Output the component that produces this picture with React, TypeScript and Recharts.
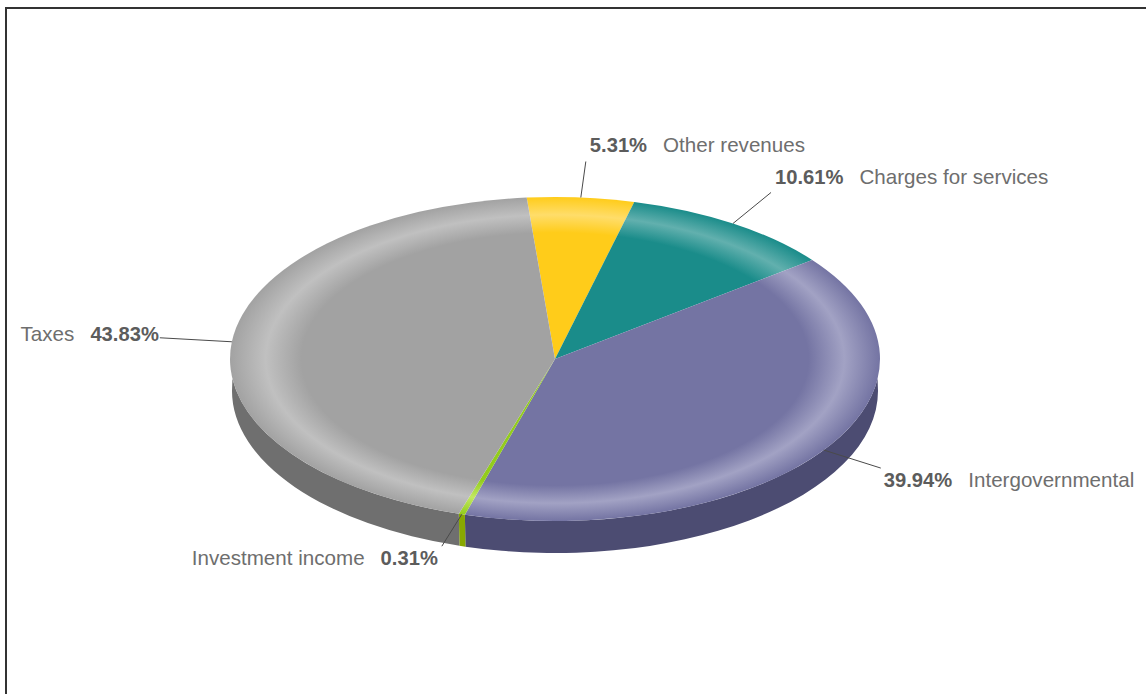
import React from "react";
import { PieChart, Pie } from "recharts";

const categories = ["Other revenues", "Charges for services", "Intergovernmental", "Investment income", "Taxes"];
const shares = [5.31, 10.61, 39.94, 0.31, 43.83];

const data = categories.map((name, i) => ({ name, value: shares[i] }));

// base face, rim highlight, wall
const faceColors = ["#ffcc1a", "#1a8c8a", "#7474a3", "#93cc1c", "#a2a2a2"];
const glowColors = ["#ffdd6a", "#62b0ae", "#a2a2c4", "#c2e862", "#c0c0c0"];
const wallColors = ["#b08c10", "#0e5f5e", "#4c4c72", "#88a800", "#6f6f6f"];

// the disc is tilted: vertical radii shrink by this factor
const TILT = 0.4985;
const DEPTH = 32;
// the far ends of the wall hide behind the disc down to this angle
const WALL_HIDDEN = 7;

// leader end relative to the rim, then text relative to the leader end
const leaders = [
  { dx: 5, dy: -36, tx: 4, ty: -9, side: "right" },
  { dx: 38, dy: -31, tx: 4, ty: -8, side: "right" },
  { dx: 57, dy: 18, tx: 3, ty: 19, side: "right" },
  { dx: -20, dy: 32, tx: -4, ty: 19, side: "left" },
  { dx: -72, dy: -4, tx: -1, ty: 3, side: "left" },
];

const rad = (deg: number) => (deg * Math.PI) / 180;

function rimPoint(cx: number, cy: number, r: number, deg: number) {
  return { x: cx + r * Math.cos(rad(deg)), y: cy - r * TILT * Math.sin(rad(deg)) };
}

function TopFace(props: any) {
  const { cx, cy, outerRadius: r, startAngle, endAngle, index } = props;
  const a = rimPoint(cx, cy, r, startAngle);
  const b = rimPoint(cx, cy, r, endAngle);
  const large = Math.abs(startAngle - endAngle) > 180 ? 1 : 0;
  const id = `face-${index}`;
  const d = `M${cx},${cy} L${a.x},${a.y} A${r},${r * TILT} 0 ${large} 1 ${b.x},${b.y} Z`;
  return (
    <g>
      <defs>
        <radialGradient
          id={id}
          gradientUnits="userSpaceOnUse"
          cx={cx}
          cy={cy}
          r={r}
          gradientTransform={`translate(${cx} ${cy}) scale(1 ${TILT}) translate(${-cx} ${-cy})`}
        >
          <stop offset="0.78" stopColor={faceColors[index]} />
          <stop offset="0.89" stopColor={glowColors[index]} />
          <stop offset="1" stopColor={faceColors[index]} />
        </radialGradient>
      </defs>
      <path d={d} fill={`url(#${id})`} />
    </g>
  );
}

// only the part of a slice facing the viewer shows a wall; its lower edge
// is a slightly narrower ellipse than the disc
function Wall(props: any) {
  const { cx, cy, outerRadius: r, startAngle, endAngle, index } = props;
  const from = Math.min(startAngle, -WALL_HIDDEN);
  const to = Math.max(endAngle, -180 + WALL_HIDDEN);
  if (from <= to) return null;
  const a = rimPoint(cx, cy, r, from);
  const b = rimPoint(cx, cy, r, to);
  const ry = r * TILT;
  const lowerFrom = from === -WALL_HIDDEN ? 0 : from;
  const lowerTo = to === -180 + WALL_HIDDEN ? -180 : to;
  const rl = r - 2;
  const c = { x: cx + rl * Math.cos(rad(lowerFrom)), y: cy - ry * Math.sin(rad(lowerFrom)) + DEPTH };
  const e = { x: cx + rl * Math.cos(rad(lowerTo)), y: cy - ry * Math.sin(rad(lowerTo)) + DEPTH };
  const d =
    `M${a.x},${a.y} A${r},${ry} 0 0 1 ${b.x},${b.y} ` +
    `L${e.x},${e.y} A${rl},${ry} 0 0 0 ${c.x},${c.y} Z`;
  return <path d={d} fill={wallColors[index]} />;
}

function SliceLabel(props: any) {
  const { cx, cy, outerRadius: r, midAngle, index, name, value } = props;
  const p = rimPoint(cx, cy, r, midAngle);
  const l = leaders[index];
  const ex = p.x + l.dx;
  const ey = p.y + l.dy;
  const pct = `${value.toFixed(2)}%`;
  const right = l.side === "right";
  return (
    <g>
      <line x1={p.x} y1={p.y} x2={ex} y2={ey} stroke="#4a4a4a" strokeWidth={1} />
      <text
        x={ex + l.tx}
        y={ey + l.ty}
        textAnchor={right ? "start" : "end"}
        fontFamily="'Liberation Sans', Arial, sans-serif"
        fontSize={20.6}
        fill="#6e6e6e"
      >
        {right ? (
          <>
            <tspan fontSize={20.2} fontWeight="bold" fill="#5c5c5c">{pct}</tspan>
            <tspan dx={16}>{name}</tspan>
          </>
        ) : (
          <>
            <tspan>{name}</tspan>
            <tspan dx={16} fontSize={20.2} fontWeight="bold" fill="#5c5c5c">{pct}</tspan>
          </>
        )}
      </text>
    </g>
  );
}

export default function App() {
  return (
    <div style={{ position: "absolute", left: 0, top: 0, width: 1146, height: 694, overflow: "hidden", background: "#fff" }}>
      <div style={{ position: "absolute", left: 5, top: 7, right: 0, height: 2, background: "#333" }} />
      <div style={{ position: "absolute", left: 5, top: 7, bottom: 0, width: 2, background: "#333" }} />
      <PieChart width={1146} height={694} margin={{ top: 0, right: 0, bottom: 0, left: 0 }}>
        <Pie
          data={data}
          dataKey="value"
          nameKey="name"
          cx={555}
          cy={359}
          innerRadius={0}
          outerRadius={325}
          startAngle={95}
          endAngle={-265}
          stroke="none"
          shape={Wall}
          isAnimationActive={false}
        />
        <Pie
          data={data}
          dataKey="value"
          nameKey="name"
          cx={555}
          cy={359}
          innerRadius={0}
          outerRadius={325}
          startAngle={95}
          endAngle={-265}
          stroke="none"
          shape={TopFace}
          label={SliceLabel}
          labelLine={false}
          isAnimationActive={false}
        />
      </PieChart>
    </div>
  );
}
